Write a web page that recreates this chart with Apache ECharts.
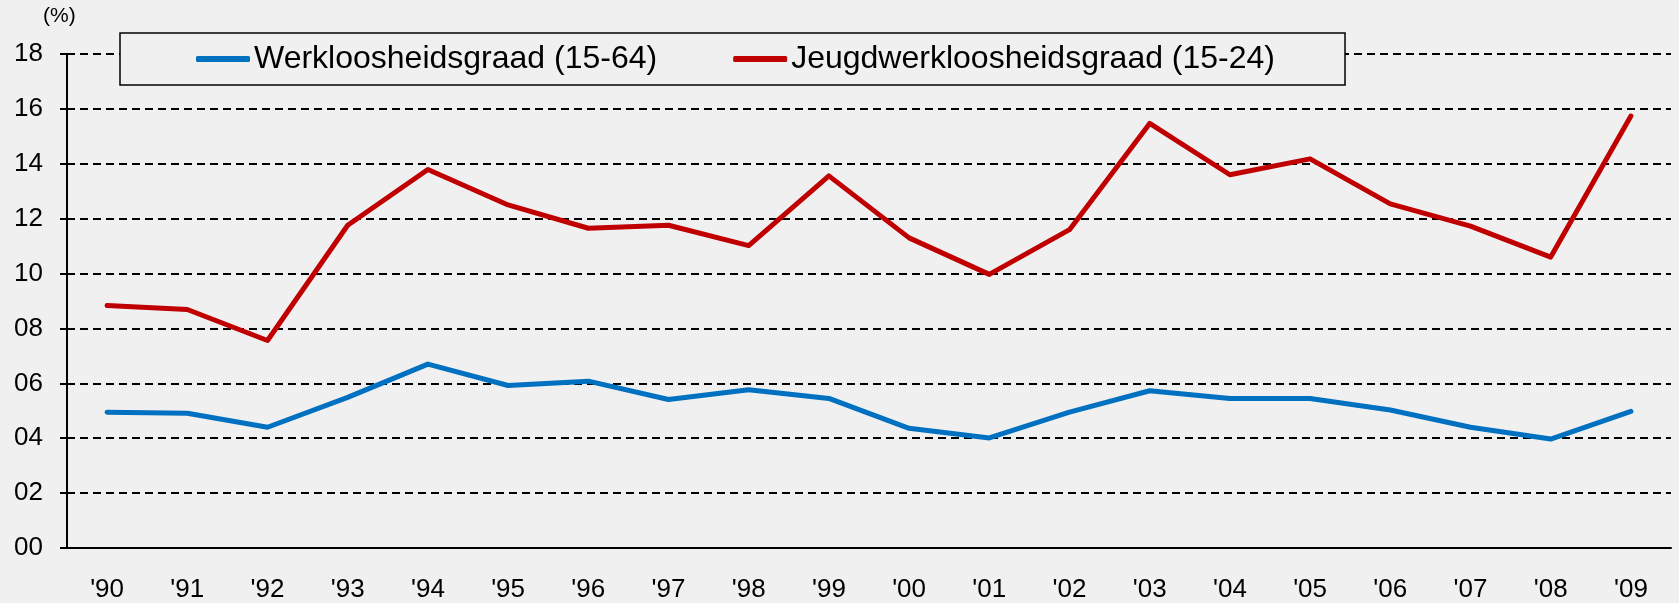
<!DOCTYPE html>
<html>
<head>
<meta charset="utf-8">
<script src="https://cdn.jsdelivr.net/npm/echarts@6/dist/echarts.min.js"></script>
<style>
    html, body { margin: 0; padding: 0; background: #f0f0f0; }
    #chart { width: 1679px; height: 603px; }
</style>
</head>
<body>
<div id="chart"></div>
<script>
/*jaren*/
var years = ["'90", "'91", "'92", "'93", "'94", "'95", "'96", "'97", "'98", "'99",
    "'00", "'01", "'02", "'03", "'04", "'05", "'06", "'07", "'08", "'09"];
/*werkloosheidsgraad 15-64*/
var werkloosheid = [4.95, 4.91, 4.40, 5.49, 6.70, 5.92, 6.08, 5.41, 5.77, 5.45,
    4.36, 4.01, 4.95, 5.73, 5.45, 5.45, 5.03, 4.40, 3.97, 4.98];
/*jeugdwerkloosheidsgraad 15-24*/
var jeugdwerkloosheid = [8.84, 8.69, 7.56, 11.76, 13.79, 12.50, 11.65, 11.76, 11.02, 13.56,
    11.30, 9.97, 11.60, 15.47, 13.60, 14.18, 12.54, 11.73, 10.60, 15.74];
var seriesNames = ['Werkloosheidsgraad (15-64)', 'Jeugdwerkloosheidsgraad (15-24)'];

var myChart = echarts.init(document.getElementById('chart'));
var font = '"Liberation Sans", Arial, sans-serif';

var option = {
    backgroundColor: '#f0f0f0',
    animation: false,
    textStyle: { fontFamily: font, color: '#000' },
    // eenheid boven de y-as
    title: {
        text: '(%)',
        left: 43,
        top: 6,
        padding: 0,
        textStyle: { fontSize: 21, fontWeight: 'normal', color: '#000', fontFamily: font }
    },
    grid: { left: 67, right: 8, top: 54, bottom: 55 },
    legend: {
        left: 120,
        top: 33,
        padding: [10, 70, 10, 76],
        itemGap: 76,
        itemWidth: 54,
        itemHeight: 6,
        icon: 'roundRect',
        backgroundColor: '#f0f0f0',
        borderColor: '#000',
        borderWidth: 1.5,
        textStyle: { fontSize: 32, color: '#000', fontFamily: font, padding: [0, 0, 0, -1] },
        data: seriesNames
    },
    xAxis: {
        type: 'category',
        data: years,
        boundaryGap: true,
        axisLine: { lineStyle: { color: '#000', width: 2 } },
        axisTick: { length: 8, lineStyle: { color: '#000', width: 2 } },
        axisLabel: { fontSize: 26, color: '#000', margin: 29, fontFamily: font }
    },
    yAxis: {
        type: 'value',
        min: 0,
        max: 18,
        interval: 2,
        axisLine: { show: true, lineStyle: { color: '#000', width: 2 } },
        axisTick: { show: true, length: 7, lineStyle: { color: '#000', width: 2 } },
        axisLabel: {
            fontSize: 26, color: '#000', margin: 24, fontFamily: font,
            formatter: function (v) { return v < 10 ? '0' + v : '' + v; }
        },
        splitLine: { show: true, lineStyle: { color: '#000', width: 1.8, type: [8, 5] } }
    },
    series: [
        {
            name: seriesNames[0],
            type: 'line',
            data: werkloosheid,
            symbol: 'none',
            color: '#0070C0',
            lineStyle: { width: 5, color: '#0070C0', cap: 'round', join: 'round' }
        },
        {
            name: seriesNames[1],
            type: 'line',
            data: jeugdwerkloosheid,
            symbol: 'none',
            color: '#C00000',
            lineStyle: { width: 5, color: '#C00000', cap: 'round', join: 'round' }
        }
    ]
};
myChart.setOption(option);
</script>
</body>
</html>
